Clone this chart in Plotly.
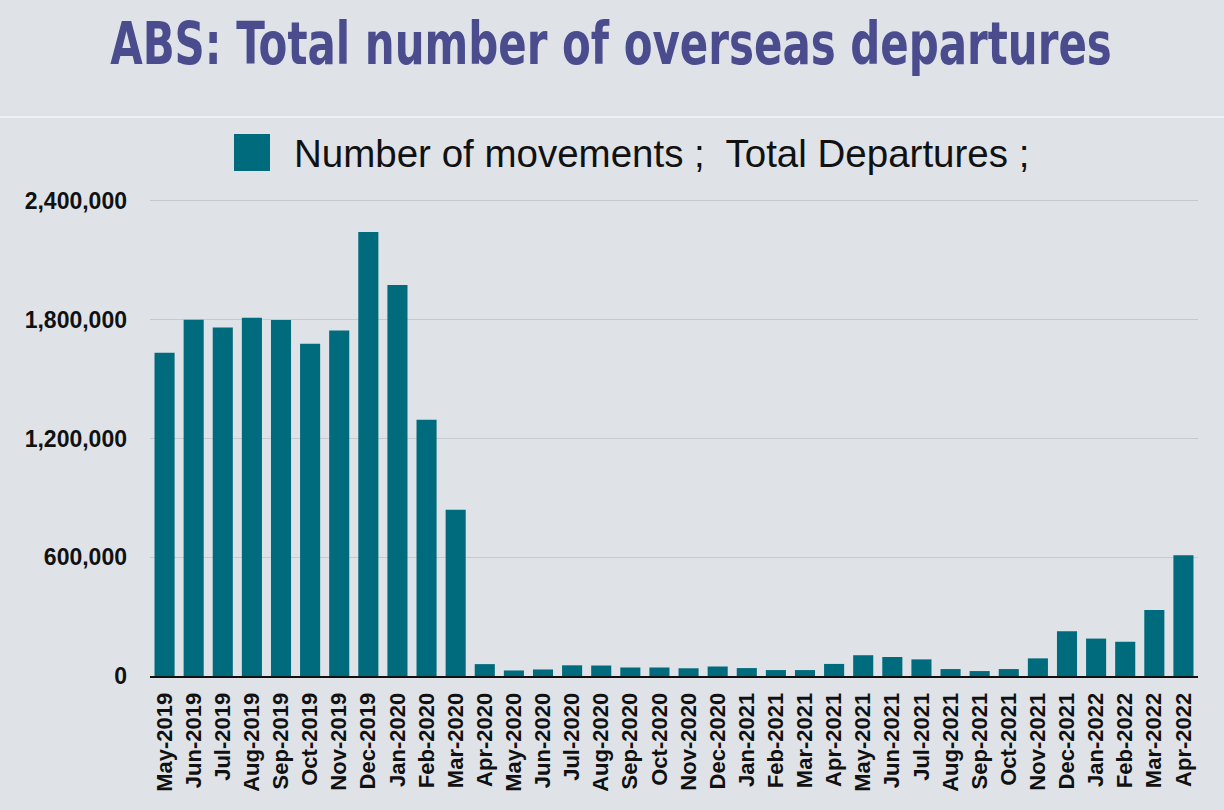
import plotly.graph_objects as go

months = ["May-2019", "Jun-2019", "Jul-2019", "Aug-2019", "Sep-2019", "Oct-2019",
          "Nov-2019", "Dec-2019", "Jan-2020", "Feb-2020", "Mar-2020", "Apr-2020",
          "May-2020", "Jun-2020", "Jul-2020", "Aug-2020", "Sep-2020", "Oct-2020",
          "Nov-2020", "Dec-2020", "Jan-2021", "Feb-2021", "Mar-2021", "Apr-2021",
          "May-2021", "Jun-2021", "Jul-2021", "Aug-2021", "Sep-2021", "Oct-2021",
          "Nov-2021", "Dec-2021", "Jan-2022", "Feb-2022", "Mar-2022", "Apr-2022"]

departures = [1633000, 1800000, 1761000, 1810000, 1798000, 1678000,
              1746000, 2243000, 1975000, 1295000, 840000, 60000,
              28000, 33000, 54000, 53000, 43000, 43000,
              39000, 48000, 40000, 30000, 30000, 61000,
              105000, 96000, 84000, 35000, 25000, 35000,
              89000, 226000, 189000, 173000, 334000, 610000]

y_ticks = [0, 600000, 1200000, 1800000, 2400000]
y_tick_labels = ["0", "600,000", "1,200,000", "1,800,000", "2,400,000"]

title_text = "ABS: Total number of overseas departures"
legend_text = "Number of movements ;  Total Departures ;"

BG = "#dfe3e8"
TEAL = "#006b7c"

fig = go.Figure()
fig.add_trace(go.Bar(x=months, y=departures, marker=dict(color=TEAL, line=dict(width=0)),
                     showlegend=False))

fig.update_layout(
    width=1224, height=810,
    paper_bgcolor=BG, plot_bgcolor=BG,
    margin=dict(l=150, r=26, t=195, b=134),
    bargap=0.31,
    showlegend=False,
    title=dict(text="<b>" + title_text + "</b>", x=0.5, xanchor="center",
               yref="container", y=1 - 44 / 810, yanchor="middle",
               font=dict(family="DejaVu Sans Condensed, DejaVu Sans, sans-serif",
                         size=58, color="#4b4c8e")),
    xaxis=dict(type="category", range=[-0.5, 35.5], tickangle=-90,
               tickfont=dict(family="Liberation Sans, Arial, sans-serif", size=22, color="#111111",
                             weight="bold"),
               showline=True, linecolor="#111111", linewidth=2, ticks="", showgrid=False,
               ticklabelstandoff=6),
    yaxis=dict(range=[0, 2430000], tickvals=y_ticks, ticktext=y_tick_labels,
               tickfont=dict(family="Liberation Sans, Arial, sans-serif", size=23, color="#111111",
                             weight="bold"),
               showgrid=True, gridcolor="#c6cad0", gridwidth=1, zeroline=False,
               showline=False, ticks="", ticklabelstandoff=22),
    shapes=[
        dict(type="line", xref="paper", yref="paper", x0=-150 / 1048, x1=1 + 26 / 1048,
             y0=(810 - 117 - 134) / 481, y1=(810 - 117 - 134) / 481,
             line=dict(color="#eef0f3", width=2)),
        dict(type="rect", xref="paper", yref="paper",
             x0=(234 - 150) / 1048, x1=(270 - 150) / 1048,
             y0=(810 - 171 - 134) / 481, y1=(810 - 134 - 134) / 481,
             fillcolor=TEAL, line=dict(width=0)),
    ],
    annotations=[
        dict(text=legend_text, xref="paper", yref="paper",
             x=(292 - 150) / 1048, xanchor="left",
             y=(810 - 153 - 134) / 481, yanchor="middle", showarrow=False,
             font=dict(family="Liberation Sans, Arial, sans-serif", size=38.5, color="#111111")),
    ],
)

post = """
document.body.style.margin = '0';
document.body.style.padding = '0';
document.body.style.overflow = 'hidden';
var g = document.querySelector('g.g-gtitle');
if (g) {
  var bb = g.getBBox();
  var cx = bb.x + bb.width / 2;
  var s = 1002 / bb.width;
  g.setAttribute('transform', 'translate(611,0) scale(' + s + ',1) translate(' + (-cx) + ',0)');
}
"""

fig.write_html("out.html", post_script=post, config={"displayModeBar": False})
